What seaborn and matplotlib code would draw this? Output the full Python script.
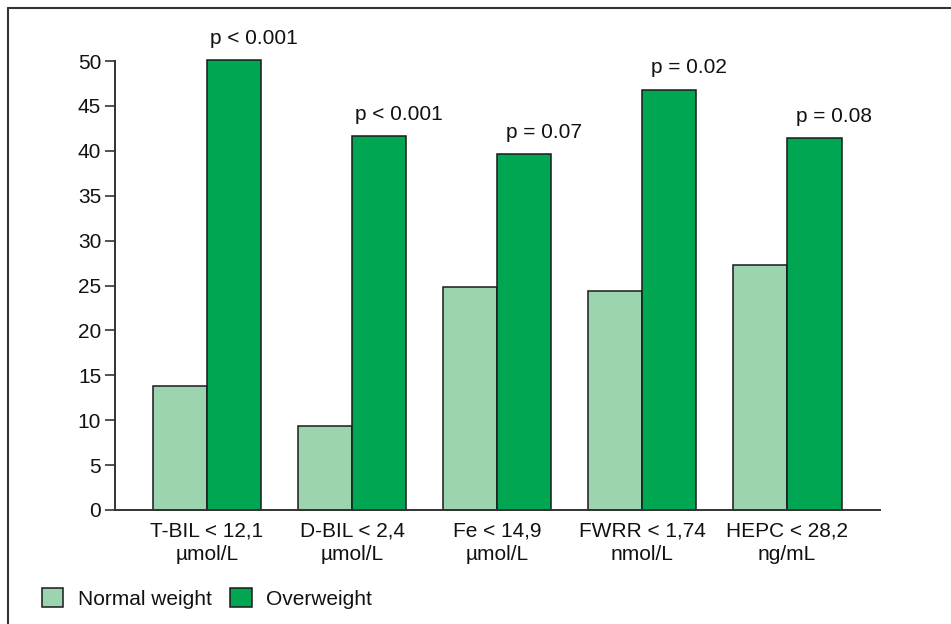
import matplotlib
matplotlib.use("Agg")
import matplotlib.pyplot as plt
from matplotlib.lines import Line2D
import seaborn as sb
import pandas as pd

categories = ["T-BIL < 12,1\nµmol/L", "D-BIL < 2,4\nµmol/L", "Fe < 14,9\nµmol/L",
              "FWRR < 1,74\nnmol/L", "HEPC < 28,2\nng/mL"]
normalWeight = [13.8, 9.4, 24.8, 24.4, 27.3]
overweight = [50.1, 41.6, 39.6, 46.8, 41.4]
pLabels = ["p < 0.001", "p < 0.001", "p = 0.07", "p = 0.02", "p = 0.08"]
groups = ["Normal weight", "Overweight"]

df = pd.DataFrame({
    "test": categories * 2,
    "value": normalWeight + overweight,
    "group": [groups[0]] * len(categories) + [groups[1]] * len(categories),
})

sb.set_theme(style="white")
plt.rcParams['font.family'] = ['Liberation Sans', 'DejaVu Sans']
fontSize = 15
textColor = "#111111"

fig = plt.figure(figsize=(9.51, 6.24), dpi=100)
ax = fig.add_axes([0.121, 0.1827, 0.8043, 0.7195])

sb.barplot(data=df, x="test", y="value", hue="group", hue_order=groups,
           palette={"Normal weight": "#9dd4b0", "Overweight": "#00a651"},
           width=0.75, gap=0, edgecolor="#1a1a1a", linewidth=1.1,
           saturation=1, ax=ax, legend=False)

for bar in ax.patches:
    bar.set_clip_on(False)

# p-values above the overweight bars
overBars = ax.containers[1]
for bar, label in zip(overBars, pLabels):
    ax.annotate(label, (bar.get_x() + bar.get_width() / 2, bar.get_height()),
                xytext=(14, 9), textcoords="offset points", annotation_clip=False,
                ha="center", va="bottom", fontsize=fontSize, color=textColor)

ax.set_xlim(-0.634, 4.64)
ax.set_ylim(0, 50)
ax.set_yticks(range(0, 51, 5))
ax.set_xlabel("")
ax.set_ylabel("")

for side in ["top", "right"]:
    ax.spines[side].set_visible(False)
for side in ["left", "bottom"]:
    ax.spines[side].set_color("#333333")
    ax.spines[side].set_linewidth(1.4)

ax.tick_params(axis="y", direction="out", length=7, width=1.2, color="#333333",
               labelsize=fontSize, labelcolor=textColor, pad=3, left=True)
ax.tick_params(axis="x", length=0, labelsize=fontSize, labelcolor=textColor, pad=8)
for lbl in ax.get_xticklabels():
    lbl.set_linespacing(1.35)

handles = [plt.Rectangle((0, 0), 1, 1, facecolor="#9dd4b0", edgecolor="#1a1a1a", linewidth=1.1),
           plt.Rectangle((0, 0), 1, 1, facecolor="#00a651", edgecolor="#1a1a1a", linewidth=1.1)]
leg = fig.legend(handles, groups, loc="center left", bbox_to_anchor=(0.035, 0.041),
                 ncol=2, frameon=False, fontsize=fontSize, handlelength=1.05, handleheight=1.05,
                 handletextpad=0.7, columnspacing=0.85, borderaxespad=0)
for t in leg.get_texts():
    t.set_color(textColor)

# outer frame (top and left edges)
fig.add_artist(Line2D([0.0089, 1.0], [0.9864, 0.9864], color="#333333", linewidth=1.5,
                      transform=fig.transFigure))
fig.add_artist(Line2D([0.0089, 0.0089], [0.0, 0.9864], color="#333333", linewidth=1.5,
                      transform=fig.transFigure))

fig.savefig("out.png", dpi=100)
